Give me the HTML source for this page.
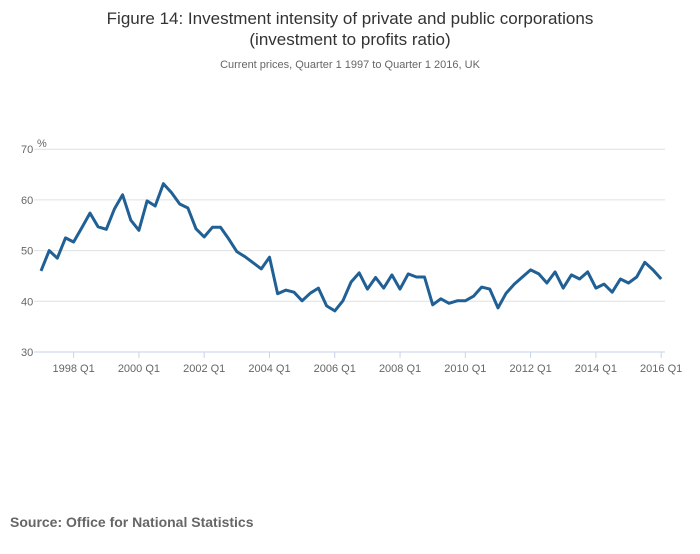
<!DOCTYPE html>
<html><head><meta charset="utf-8"><style>
body{margin:0;background:#fff;font-family:"Liberation Sans",sans-serif;}
svg text{font-family:"Liberation Sans",sans-serif;}
</style></head><body>
<svg id="chart" width="700" height="549">
<text x="350" y="24" text-anchor="middle" font-size="17" fill="#333">Figure 14: Investment intensity of private and public corporations</text>
<text x="350" y="45" text-anchor="middle" font-size="17" fill="#333">(investment to profits ratio)</text>
<text x="350" y="68" text-anchor="middle" font-size="11" fill="#666">Current prices, Quarter 1 1997 to Quarter 1 2016, UK</text>
<text x="37" y="147" font-size="11" fill="#666">%</text>
<g id="grid"></g><g id="xaxis"></g>
<path id="line" fill="none" stroke="#206095" stroke-width="3" stroke-linejoin="round"></path>
<text x="10" y="527" font-size="14" font-weight="bold" fill="#666">Source: Office for National Statistics</text>
</svg>
<script>
const values=[46.0,50.0,48.5,52.5,51.7,54.5,57.4,54.7,54.2,58.2,61.0,56.0,54.0,59.8,58.8,63.2,61.4,59.2,58.4,54.3,52.7,54.6,54.6,52.3,49.8,48.8,47.6,46.4,48.7,41.5,42.2,41.8,40.1,41.6,42.6,39.1,38.1,40.1,43.8,45.6,42.4,44.7,42.6,45.2,42.4,45.4,44.8,44.8,39.3,40.5,39.6,40.1,40.1,41.0,42.8,42.4,38.7,41.6,43.4,44.8,46.2,45.4,43.6,45.8,42.6,45.2,44.4,45.8,42.6,43.4,41.8,44.4,43.6,44.8,47.7,46.2,44.4];
const yTicks=[30,40,50,60,70];
const xTickLabels=["1998 Q1","2000 Q1","2002 Q1","2004 Q1","2006 Q1","2008 Q1","2010 Q1","2012 Q1","2014 Q1","2016 Q1"];
const xTickIdx=[4,12,20,28,36,44,52,60,68,76];
const NS="http://www.w3.org/2000/svg";
const xs=i=>41+i*8.16;
const ys=v=>352-(v-30)*5.07;
const grid=document.getElementById('grid');
yTicks.forEach(t=>{
  const l=document.createElementNS(NS,'line');
  l.setAttribute('x1',34);l.setAttribute('x2',665);l.setAttribute('y1',ys(t));l.setAttribute('y2',ys(t));
  l.setAttribute('stroke',t===30?'#c7d3e8':'#e0e0e0');l.setAttribute('stroke-width',1);
  
  
  grid.appendChild(l);
  const tx=document.createElementNS(NS,'text');
  tx.setAttribute('x',21);tx.setAttribute('y',ys(t)+4);tx.setAttribute('font-size',11);tx.setAttribute('fill','#666');
  tx.textContent=t;
  
  
  grid.appendChild(tx);
});
const xa=document.getElementById('xaxis');
xTickIdx.forEach((q,i)=>{
  const l=document.createElementNS(NS,'line');
  l.setAttribute('x1',xs(q));l.setAttribute('x2',xs(q));l.setAttribute('y1',352);l.setAttribute('y2',358);
  l.setAttribute('stroke','#c7d3e8');
  
  
  xa.appendChild(l);
  const tx=document.createElementNS(NS,'text');
  tx.setAttribute('x',xs(q));tx.setAttribute('y',372);tx.setAttribute('font-size',11);tx.setAttribute('fill','#666');
  tx.setAttribute('text-anchor','middle');
  tx.textContent=xTickLabels[i];
  
  
  xa.appendChild(tx);
});
document.getElementById('line').setAttribute('d',values.map((v,i)=>(i?'L':'M')+xs(i).toFixed(1)+','+ys(v).toFixed(1)).join(''));
</script>
</body></html>
